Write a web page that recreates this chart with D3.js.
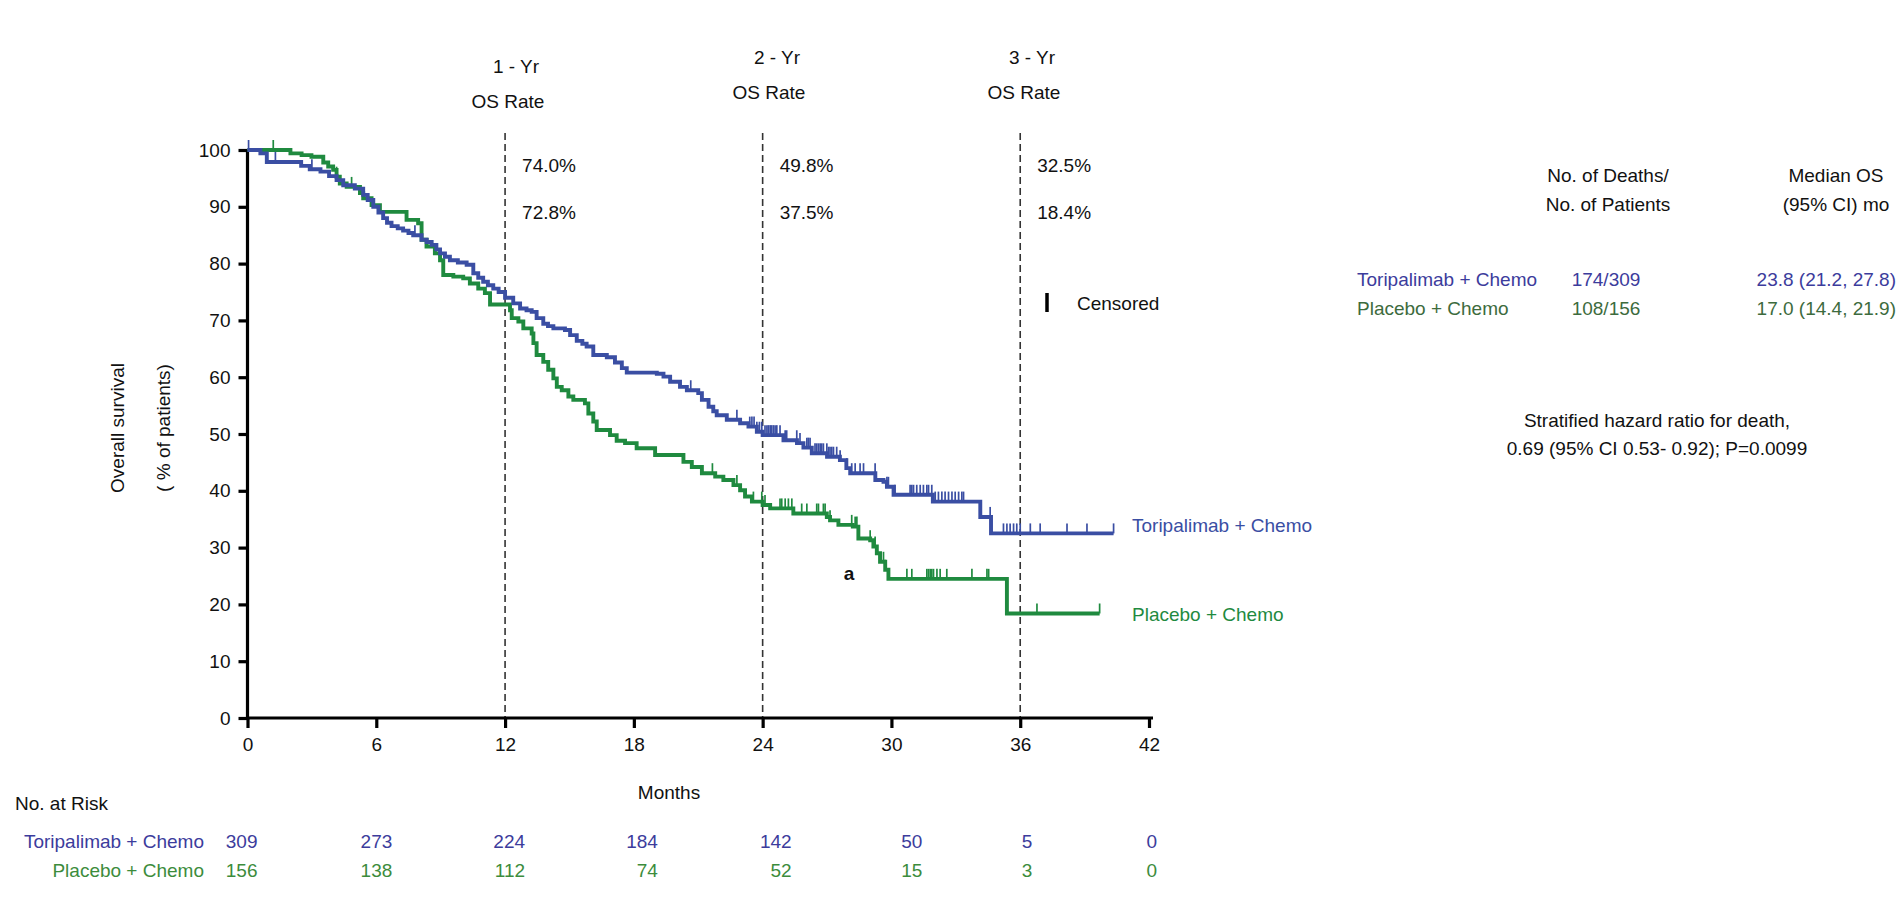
<!DOCTYPE html>
<html>
<head>
<meta charset="utf-8">
<script src="https://cdn.jsdelivr.net/npm/d3@7"></script>
<style>
  body { margin: 0; background: #fff; }
  svg text { font-family: "Liberation Sans", Arial, sans-serif; }
</style>
</head>
<body>
<div id="chart"></div>
<script>
// Kaplan-Meier step data: time in months, survival in %
const toriTimes = [0, 0.6, 0.9, 2.5, 2.9, 3.4, 3.8, 4.15, 4.46, 5.0, 5.39, 5.6, 5.86, 6.1, 6.32, 6.5, 6.71, 7.0, 7.25, 7.5, 7.72, 8.11, 8.35, 8.58, 8.8, 8.97, 9.2, 9.43, 9.8, 10.21, 10.52, 10.75, 10.98, 11.2, 11.45, 11.7, 12.0, 12.38, 12.7, 13.0, 13.24, 13.47, 13.78, 14.0, 14.25, 14.79, 15.03, 15.34, 15.6, 15.8, 16.11, 16.74, 17.12, 17.44, 17.67, 19.07, 19.38, 19.69, 20.15, 20.47, 21.0, 21.17, 21.48, 21.7, 21.86, 22.33, 22.95, 23.34, 23.73, 24.0, 24.97, 25.6, 25.9, 26.29, 27.0, 27.6, 27.9, 28.08, 29.25, 29.63, 29.79, 30.1, 31.93, 34.14, 34.64, 40.35];
const toriSurv = [100, 99.4, 97.9, 97.2, 96.6, 96.2, 95.4, 94.7, 93.8, 93.2, 92.1, 91.2, 90.0, 89.0, 88.0, 87.2, 86.6, 86.2, 85.8, 85.4, 85.0, 84.2, 83.8, 83.3, 82.5, 81.8, 81.2, 80.6, 80.2, 79.8, 78.3, 77.5, 76.8, 76.2, 75.6, 75.0, 74.0, 73.0, 72.1, 71.8, 71.5, 70.4, 69.4, 69.0, 68.6, 68.3, 67.4, 66.4, 65.9, 65.4, 63.9, 63.5, 62.6, 61.6, 60.8, 60.6, 60.1, 59.2, 58.3, 57.7, 57.2, 56.0, 54.8, 54.0, 53.3, 52.5, 51.9, 51.3, 50.4, 49.8, 48.9, 48.4, 47.6, 46.6, 46.0, 45.4, 44.0, 43.1, 41.9, 41.6, 40.7, 39.3, 38.1, 35.4, 32.5, 32.5];
const toriCensor = [0.05, 1.3, 3.0, 7.8, 20.65, 22.8, 23.4, 23.5, 23.6, 23.73, 23.85, 23.96, 24.11, 24.2, 24.27, 24.35, 24.42, 24.5, 24.58, 24.66, 24.81, 25.05, 25.12, 25.59, 25.74, 26.06, 26.13, 26.21, 26.44, 26.52, 26.6, 26.68, 26.75, 26.83, 26.99, 27.07, 27.14, 27.22, 27.3, 27.45, 27.61, 27.92, 28.15, 28.31, 28.54, 28.7, 29.24, 29.79, 29.86, 30.17, 30.87, 30.95, 31.03, 31.18, 31.34, 31.49, 31.65, 31.73, 31.88, 32.04, 32.19, 32.35, 32.5, 32.66, 32.82, 32.97, 33.13, 33.28, 33.36, 34.6, 35.22, 35.38, 35.53, 35.69, 35.84, 36.0, 36.47, 36.93, 38.18, 39.11, 40.35];

const placTimes = [0, 2.0, 2.52, 2.98, 3.53, 3.76, 3.99, 4.15, 4.3, 4.62, 5.24, 5.39, 5.78, 6.17, 7.41, 7.95, 8.11, 8.34, 8.73, 8.97, 9.12, 9.59, 10.05, 10.36, 10.75, 11.06, 11.3, 12.23, 12.31, 12.62, 12.85, 13.24, 13.32, 13.47, 13.78, 14.01, 14.25, 14.41, 14.64, 14.95, 15.18, 15.72, 15.88, 16.11, 16.27, 16.89, 17.2, 17.59, 18.13, 18.99, 20.31, 20.7, 21.17, 21.79, 22.17, 22.64, 22.95, 23.18, 23.5, 24.0, 24.35, 25.43, 26.99, 27.14, 27.53, 28.2, 28.46, 29.01, 29.16, 29.32, 29.47, 29.71, 29.86, 35.38, 39.7];
const placSurv = [100, 99.4, 99.1, 98.8, 97.8, 97.1, 96.5, 95.3, 94.1, 93.5, 92.4, 91.5, 90.3, 89.1, 87.7, 87.1, 84.2, 83.0, 81.8, 80.6, 78.0, 77.7, 77.4, 76.5, 75.6, 74.8, 72.8, 71.8, 70.4, 69.8, 68.6, 67.7, 66.0, 63.9, 62.7, 61.3, 59.8, 58.3, 57.7, 56.6, 56.0, 55.4, 53.6, 52.2, 50.7, 49.8, 48.8, 48.4, 47.5, 46.3, 45.1, 44.2, 43.1, 42.5, 41.9, 41.0, 40.1, 39.0, 38.1, 37.5, 36.9, 36.0, 35.4, 34.8, 34.0, 33.7, 31.6, 31.3, 30.2, 29.0, 27.5, 26.1, 24.5, 18.4, 18.4];
const placCensor = [1.2, 4.15, 4.85, 21.66, 22.8, 23.57, 23.96, 24.11, 24.81, 24.89, 25.05, 25.2, 25.36, 25.82, 26.06, 26.52, 26.6, 26.83, 26.91, 27.14, 28.15, 28.31, 28.39, 29.01, 29.24, 29.63, 29.71, 30.72, 30.95, 31.65, 31.73, 31.81, 31.88, 31.96, 32.12, 32.27, 32.58, 33.75, 34.45, 34.53, 36.78, 39.7];

// landmark OS rates
const landmarks = [12, 24, 36];
const landmarkNames = ["1 - Yr", "2 - Yr", "3 - Yr"];
const toriRates = ["74.0%", "49.8%", "32.5%"];
const placRates = ["72.8%", "37.5%", "18.4%"];

// number at risk
const riskTimes = [0, 6, 12, 18, 24, 30, 36, 42];
const toriRisk = [309, 273, 224, 184, 142, 50, 5, 0];
const placRisk = [156, 138, 112, 74, 52, 15, 3, 0];

const xTicks = [0, 6, 12, 18, 24, 30, 36, 42];
const yTicks = [0, 10, 20, 30, 40, 50, 60, 70, 80, 90, 100];

const armNames = ["Toripalimab + Chemo", "Placebo + Chemo"];
const deaths = ["174/309", "108/156"];
const medians = ["23.8 (21.2, 27.8)", "17.0 (14.4, 21.9)"];

const blue = "#3a4ea3", green = "#1f8a3f";
const blueText = "#3c3c9c", greenText = "#3d6b3d";
const FS = 19;

const width = 1902, height = 898;
const svg = d3.select("#chart").append("svg")
    .attr("width", width).attr("height", height);

const x = d3.scaleLinear().domain([0, 42]).range([247.5, 1149]);
const y = d3.scaleLinear().domain([0, 100]).range([718, 150]);

// survival value at a given time (step function lookup)
function survAt(times, surv, t) {
    let i = d3.bisectRight(times, t) - 1;
    return surv[Math.max(0, i)];
}

// dashed landmark lines
svg.selectAll(".landmark")
    .data(landmarks)
    .join("line")
    .attr("x1", d => x(d)).attr("x2", d => x(d))
    .attr("y1", 133).attr("y2", y(0))
    .attr("stroke", "#333").attr("stroke-width", 1.6)
    .attr("stroke-dasharray", "7,4");

// axes
const yAxis = svg.append("g")
    .attr("transform", `translate(${x(0)},0)`)
    .call(d3.axisLeft(y).tickValues(yTicks).tickSize(9).tickSizeOuter(0).tickPadding(8));
const xAxis = svg.append("g")
    .attr("transform", `translate(0,${y(0)})`)
    .call(d3.axisBottom(x).tickValues(xTicks).tickSize(10).tickSizeOuter(0).tickPadding(10));
[xAxis, yAxis].forEach(g => {
    g.select(".domain").attr("stroke", "#000").attr("stroke-width", 3.2);
    g.selectAll(".tick line").attr("stroke", "#000").attr("stroke-width", 3.2);
    g.selectAll(".tick text").attr("fill", "#111").style("font-size", FS + "px")
        .style("font-family", '"Liberation Sans", Arial, sans-serif');
});
yAxis.select(".domain").attr("d", `M0,${y(0) + 1.5}V${y(100)}`);
xAxis.select(".domain").attr("d", `M${x(0) - 1.5},0H${x(42) + 4}`);

// curves
const line = d3.line().curve(d3.curveStepAfter).x(d => x(d[0])).y(d => y(d[1]));
const arms = [
    {times: toriTimes, surv: toriSurv, cens: toriCensor, color: blue},
    {times: placTimes, surv: placSurv, cens: placCensor, color: green}
];
arms.slice().reverse().forEach(a => {
    svg.append("path")
        .datum(d3.zip(a.times, a.surv))
        .attr("d", line)
        .attr("fill", "none")
        .attr("stroke", a.color)
        .attr("stroke-width", 3.9);
    svg.selectAll(null)
        .data(a.cens)
        .join("line")
        .attr("x1", d => x(d)).attr("x2", d => x(d))
        .attr("y1", d => y(survAt(a.times, a.surv, d)))
        .attr("y2", d => y(survAt(a.times, a.surv, d)) - 10)
        .attr("stroke", a.color).attr("stroke-width", 1.7);
});

function txt(s, px, py, opts = {}) {
    return svg.append("text")
        .attr("x", px).attr("y", py)
        .attr("text-anchor", opts.anchor || "start")
        .attr("fill", opts.fill || "#111")
        .attr("font-weight", opts.weight || "normal")
        .style("font-size", (opts.size || FS) + "px")
        .text(s);
}

// landmark headers and rates
const headX = [516, 777, 1032], headY = [73, 64, 64];
landmarks.forEach((m, i) => {
    txt(landmarkNames[i], headX[i], headY[i], {anchor: "middle"});
    txt("OS Rate", headX[i] - 8, headY[i] + 35, {anchor: "middle"});
    txt(toriRates[i], x(m) + 17, 172);
    txt(placRates[i], x(m) + 17, 219);
});

// censored legend
svg.append("line").attr("x1", 1047).attr("x2", 1047).attr("y1", 293).attr("y2", 312)
    .attr("stroke", "#000").attr("stroke-width", 3.5);
txt("Censored", 1077, 310);

// curve labels
txt(armNames[0], 1132, 532, {fill: blue});
txt(armNames[1], 1132, 621, {fill: green});
txt("a", 849, 580, {anchor: "middle", weight: "bold"});

// y axis title
svg.append("text").attr("transform", "translate(124,428) rotate(-90)")
    .attr("text-anchor", "middle").attr("fill", "#111").style("font-size", FS + "px")
    .text("Overall survival");
svg.append("text").attr("transform", "translate(170,428) rotate(-90)")
    .attr("text-anchor", "middle").attr("fill", "#111").style("font-size", FS + "px")
    .text("( % of patients)");

txt("Months", 669, 799, {anchor: "middle"});

// number at risk table
txt("No. at Risk", 15, 810);
const riskNudge = [10, 16, 20, 24, 29, 31, 12, 8];
const rows = [{vals: toriRisk, fill: blueText, y: 848}, {vals: placRisk, fill: "#3c8c3c", y: 877}];
txt(armNames[0], 204, 848, {anchor: "end", fill: blueText});
txt(armNames[1], 204, 877, {anchor: "end", fill: "#3c8c3c"});
rows.forEach(r => {
    svg.selectAll(null)
        .data(riskTimes)
        .join("text")
        .attr("x", (d, i) => x(d) + riskNudge[i])
        .attr("y", r.y)
        .attr("text-anchor", "end")
        .attr("fill", r.fill)
        .style("font-size", FS + "px")
        .text((d, i) => r.vals[i]);
});

// right-hand summary
txt("No. of Deaths/", 1608, 182, {anchor: "middle"});
txt("No. of Patients", 1608, 211, {anchor: "middle"});
txt("Median OS", 1836, 182, {anchor: "middle"});
txt("(95% CI) mo", 1836, 211, {anchor: "middle"});
[blueText, greenText].forEach((c, i) => {
    txt(armNames[i], 1357, 286 + i * 29, {fill: c});
    txt(deaths[i], 1606, 286 + i * 29, {anchor: "middle", fill: c});
    txt(medians[i], 1896, 286 + i * 29, {anchor: "end", fill: c});
});
txt("Stratified hazard ratio for death,", 1657, 427, {anchor: "middle"});
txt("0.69 (95% CI 0.53- 0.92); P=0.0099", 1657, 455, {anchor: "middle"});
</script>
</body>
</html>
